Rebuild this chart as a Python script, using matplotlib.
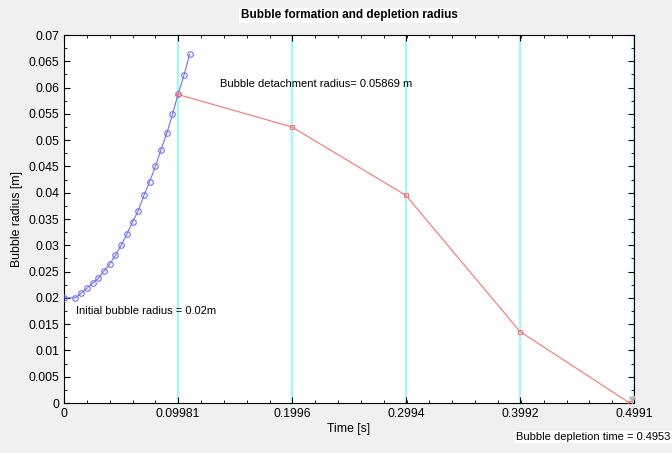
import numpy as np
import matplotlib.pyplot as plt
from matplotlib.ticker import MultipleLocator

plt.rcParams['font.family'] = ['Liberation Sans', 'DejaVu Sans']

# Bubble growth (formation stage)
t_form = [0.0, 0.01, 0.015, 0.02, 0.025, 0.03, 0.035, 0.04, 0.045, 0.05, 0.055,
          0.06, 0.065, 0.07, 0.075, 0.08, 0.085, 0.09, 0.095, 0.09981, 0.105, 0.11]
r_form = [0.0200, 0.0200, 0.0209, 0.0218, 0.0228, 0.0237, 0.0251, 0.0264, 0.0281,
          0.0300, 0.0321, 0.0344, 0.0366, 0.0395, 0.0421, 0.0450, 0.0482, 0.0513,
          0.0549, 0.05869, 0.0623, 0.0663]

# Depletion stage
t_dep = [0.09981, 0.1996, 0.2994, 0.3992, 0.4953]
r_dep = [0.05869, 0.0525, 0.0395, 0.0136, 0.0]

xticks = [0, 0.09981, 0.1996, 0.2994, 0.3992, 0.4991]
xtick_labels = ['0', '0.09981', '0.1996', '0.2994', '0.3992', '0.4991']

fig = plt.figure(figsize=(6.72, 4.53), dpi=100, facecolor='#f0f0f0')
ax = fig.add_axes([64 / 672, 50 / 453, 570 / 672, 368 / 453])

# cyan markers at each time step
for xv in xticks[1:]:
    ax.axvline(xv, color='#7fffff', lw=1.2, zorder=1)

ax.plot(t_form, r_form, color='#7070ff', lw=0.8, marker='o', ms=4,
        mfc='none', mec='#7070ff', mew=0.8, zorder=3)
ax.plot(t_dep, r_dep, color='#ff7070', lw=0.8, marker='s', ms=3.5,
        mfc='none', mec='#ff7070', mew=0.8, zorder=4)
# small grey end marker in the corner
ax.plot([0.4973], [0.0009], marker=(3, 0, -45), color='#b8b8b8', ms=4.5, zorder=5)

ax.set_xlim(0, 0.4991)
ax.set_ylim(0, 0.07)
ax.set_xticks(xticks)
ax.set_xticklabels(xtick_labels)
ax.set_yticks(np.arange(0, 0.0701, 0.005))
ax.set_yticklabels(['0'] + ['%g' % v for v in np.arange(0.005, 0.0701, 0.005)])
ax.xaxis.set_minor_locator(MultipleLocator(0.02))
ax.yaxis.set_minor_locator(MultipleLocator(0.0025))
ax.tick_params(which='both', direction='in', top=True, right=True, labelsize=8.8)
ax.tick_params(which='major', length=4)
ax.tick_params(which='minor', length=2)
for s in ax.spines.values():
    s.set_linewidth(0.8)

ax.set_xlabel('Time [s]', fontsize=8.8, labelpad=2)
ax.set_ylabel('Bubble radius [m]', fontsize=8.8, labelpad=4)
ax.set_title('Bubble formation and depletion radius', fontsize=8.5, fontweight='bold',
             pad=12, bbox=dict(facecolor='white', edgecolor='none', pad=1))

ax.text(0.137, 0.0606, 'Bubble detachment radius= 0.05869 m', fontsize=8, va='center')
ax.text(0.0105, 0.0175, 'Initial bubble radius = 0.02m', fontsize=8, va='center')
fig.text(516 / 672, 1 - 437 / 453, 'Bubble depletion time = 0.4953', fontsize=8,
         va='center', bbox=dict(facecolor='white', edgecolor='none', pad=1))

fig.savefig('out.png', dpi=100, facecolor=fig.get_facecolor())
